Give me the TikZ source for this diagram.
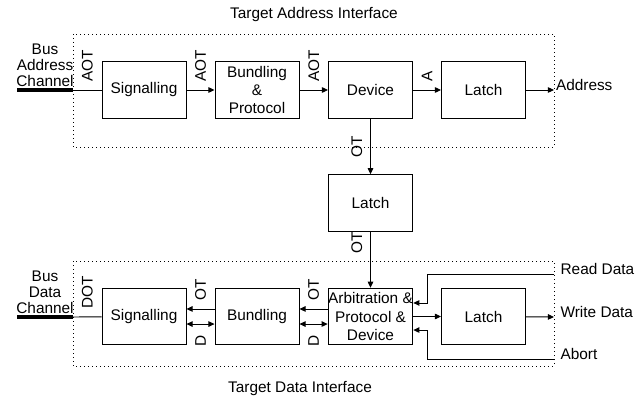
\documentclass[tikz,border=0pt]{standalone}
\usepackage{fontspec}
\setmainfont{Liberation Sans}
\usetikzlibrary{arrows.meta}

\tikzset{
  bloc/.style={draw, minimum width=54.6pt, minimum height=36.7pt, align=center, inner sep=0pt},
  fleche/.style={-{Triangle[length=4pt,width=3.6pt]}},
  fleches/.style={{Triangle[length=4pt,width=3.6pt]}-{Triangle[length=4pt,width=3.6pt]}},
  labh/.style={rotate=90, anchor=west, inner sep=0pt, inner xsep=5pt},
  labb/.style={rotate=90, anchor=east, inner sep=0pt, inner xsep=7pt},
  labv/.style={rotate=90, anchor=south, inner sep=0pt, inner ysep=5pt},
  cadre/.style={dotted},
  bus/.style={line width=2.6pt},
  buslab/.style={align=center, font=\fontsize{10}{10.3}\selectfont},
  sortie/.style={anchor=base west, inner sep=0pt, inner xsep=4pt}
}

\begin{document}
\begin{tikzpicture}[x=0.65pt, y=-0.65pt, line width=0.6pt]
\useasboundingbox (0,0) rectangle (644,402);

% Titres
\node (tadr) at (314,15) {Target Address Interface};
\node (tdat) at (300,389) {Target Data Interface};

% Cadres
\draw[cadre] (73,34) rectangle (554,147);
\draw[cadre] (73,261) rectangle (554,366);

% Adresse
\node[bloc] (siga) at (144,90) {Signalling};
\node[bloc] (bunda) at (257,90) {Bundling\\\&\\Protocol};
\node[bloc] (dev) at (370.5,90) {Device};
\node[bloc] (lata) at (483.5,90) {Latch};

\coordinate (busa) at (17,90);
\coordinate (busae) at (73,90);
\coordinate (adro) at (554,90);
\node[buslab] (busal) at (45,65.5) {Bus\\Address\\Channel};

\draw[bus] (busa) -- (busae);
\draw (busae) -- node[labh] {AOT} (siga);
\draw[fleche] (siga) -- node[labh] {AOT} (bunda);
\draw[fleche] (bunda) -- node[labh] {AOT} (dev);
\draw[fleche] (dev) -- node[labh] {A} (lata);
\draw[fleche] (lata) -- (adro);
\node[sortie, inner xsep=1pt] (adr) at (adro) {Address};

% Latch du milieu
\node[bloc] (latm) at (370.5,203) {Latch};
\draw[fleche] (dev) -- node[labv] {OT} (latm);

% Donnees
\node[bloc] (sigd) at (144,316.5) {Signalling};
\node[bloc] (bundd) at (257,316.5) {Bundling};
\node[bloc] (arb) at (370.5,316.5) {Arbitration \&\\Protocol \&\\Device};
\node[bloc] (latd) at (483.5,316.5) {Latch};

\draw[fleche] (latm) -- node[labv, pos=0.19] {OT} (arb);

\coordinate (busd) at (17,317);
\coordinate (busde) at (73,317);
\node[buslab] (busdl) at (45,292.5) {Bus\\Data\\Channel};

\draw[bus] (busd) -- (busde);
\draw (busde) -- node[labh] {DOT} (sigd);

\draw[fleche] ([yshift=4.9pt]bundd.west) -- node[labh] {OT} ([yshift=4.9pt]sigd.east);
\draw[fleches] ([yshift=-4.9pt]sigd.east) -- node[labb] {D} ([yshift=-4.9pt]bundd.west);
\draw[fleche] ([yshift=4.9pt]arb.west) -- node[labh] {OT} ([yshift=4.9pt]bundd.east);
\draw[fleches] ([yshift=-4.9pt]bundd.east) -- node[labb] {D} ([yshift=-4.9pt]arb.west);

\draw[fleche] (arb) -- (latd);

% Sorties
\coordinate (rdi) at (554,274);
\coordinate (wdo) at (554,317);
\coordinate (abi) at (554,359);

\draw[fleche] (latd) -- (wdo);
\draw[fleche] (rdi) -| ([xshift=9.1pt,yshift=8.8pt]arb.east) -- ([yshift=8.8pt]arb.east);
\draw[fleche] (abi) -| ([xshift=9.1pt,yshift=-8.8pt]arb.east) -- ([yshift=-8.8pt]arb.east);

\node[sortie] (rd) at (rdi) {Read Data};
\node[sortie] (wd) at (wdo) {Write Data};
\node[sortie] (ab) at (abi) {Abort};

\end{tikzpicture}
\end{document}
